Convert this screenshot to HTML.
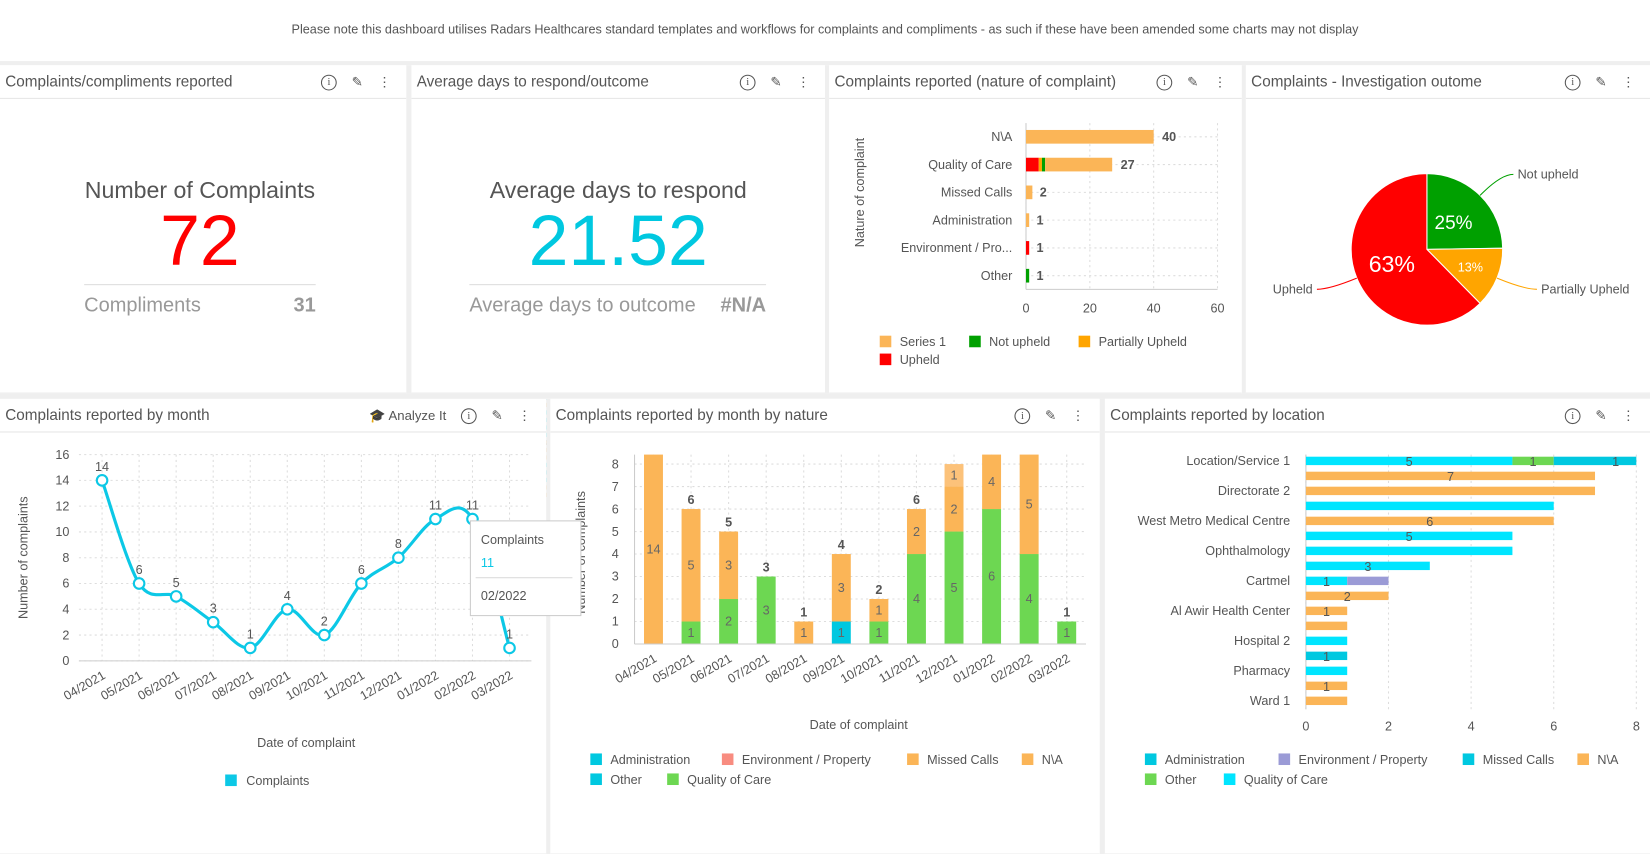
<!DOCTYPE html>
<html><head><meta charset="utf-8">
<style>
*{box-sizing:border-box;margin:0;padding:0}
body{width:1650px;height:812px;background:#fff;font-family:"Liberation Sans",sans-serif;color:#555;position:relative;overflow:hidden}
#root{position:absolute;left:0;top:0;width:1568px;height:772px;transform:scale(1.0523);transform-origin:0 0}
.note{position:absolute;top:21px;left:0;width:1568px;text-align:center;font-size:12px;color:#555}
.gap{position:absolute;background:#efefef}
.panel{position:absolute;background:#fff;border-bottom:1px solid #eee}
.hdr{position:absolute;left:0;right:0;top:0;height:32px;border-bottom:1px solid #e6e6e6;font-size:14.5px;line-height:32px;padding-left:5px;color:#555}
.icons{position:absolute;right:14px;top:0;height:32px;display:flex;gap:14px;align-items:center;font-size:13px;color:#555}
.ic-i{width:15px;height:15px;border:1.3px solid #555;border-radius:50%;font-size:10px;line-height:13px;text-align:center;font-family:"Liberation Serif",serif}
svg text{font-family:"Liberation Sans",sans-serif}
</style></head><body>
<div id="root">
<div class="note">Please note this dashboard utilises Radars Healthcares standard templates and workflows for complaints and compliments - as such if these have been amended some charts may not display</div>
<div class="gap" style="left:0;top:58px;width:1568px;height:4px"></div>
<div class="gap" style="left:0;top:374px;width:1568px;height:5px"></div>
<div class="gap" style="left:386px;top:62px;width:5px;height:312px"></div>
<div class="gap" style="left:784px;top:62px;width:4px;height:312px"></div>
<div class="gap" style="left:1180px;top:62px;width:4px;height:312px"></div>
<div class="gap" style="left:1568px;top:58px;width:4px;height:754px"></div>
<div class="gap" style="left:519px;top:379px;width:4px;height:433px"></div>
<div class="gap" style="left:1045px;top:379px;width:5px;height:433px"></div>

<div class="panel" style="left:0;top:62px;width:386px;height:312px">
 <div class="hdr">Complaints/compliments reported
  <div class="icons"><div class="ic-i">i</div><span>✎</span><span>⋮</span></div></div>
 <div style="position:absolute;top:106px;width:380px;text-align:center;font-size:22px;color:#555">Number of Complaints</div>
 <div style="position:absolute;top:128px;width:380px;text-align:center;font-size:68px;color:#f00">72</div>
 <div style="position:absolute;top:208px;left:80px;width:220px;border-top:1px solid #ddd"></div>
 <div style="position:absolute;top:218px;left:80px;font-size:19px;color:#999">Compliments</div>
 <div style="position:absolute;top:218px;left:200px;width:100px;text-align:right;font-size:19px;color:#999;font-weight:bold">31</div>
</div>

<div class="panel" style="left:391px;top:62px;width:393px;height:312px">
 <div class="hdr">Average days to respond/outcome
  <div class="icons"><div class="ic-i">i</div><span>✎</span><span>⋮</span></div></div>
 <div style="position:absolute;top:106px;width:393px;text-align:center;font-size:22px;color:#555">Average days to respond</div>
 <div style="position:absolute;top:128px;width:393px;text-align:center;font-size:68px;color:#00c8e0">21.52</div>
 <div style="position:absolute;top:208px;left:55px;width:282px;border-top:1px solid #ddd"></div>
 <div style="position:absolute;top:218px;left:55px;font-size:19px;color:#999">Average days to outcome</div>
 <div style="position:absolute;top:218px;left:237px;width:100px;text-align:right;font-size:19px;color:#999;font-weight:bold">#N/A</div>
</div>

<div class="panel" style="left:788px;top:62px;width:392px;height:312px">
 <div class="hdr">Complaints reported (nature of complaint)
  <div class="icons"><div class="ic-i">i</div><span>✎</span><span>⋮</span></div></div>
</div>
<div class="panel" style="left:1184px;top:62px;width:384px;height:312px">
 <div class="hdr">Complaints - Investigation outome
  <div class="icons"><div class="ic-i">i</div><span>✎</span><span>⋮</span></div></div>
</div>
<div class="panel" style="left:0;top:379px;width:519px;height:433px">
 <div class="hdr">Complaints reported by month
  <div class="icons"><span style="font-size:12.5px">🎓 Analyze It</span><div class="ic-i">i</div><span>✎</span><span>⋮</span></div></div>
</div>
<div class="panel" style="left:523px;top:379px;width:522px;height:433px">
 <div class="hdr">Complaints reported by month by nature
  <div class="icons"><div class="ic-i">i</div><span>✎</span><span>⋮</span></div></div>
</div>
<div class="panel" style="left:1050px;top:379px;width:518px;height:433px">
 <div class="hdr">Complaints reported by location
  <div class="icons"><div class="ic-i">i</div><span>✎</span><span>⋮</span></div></div>
</div>

<svg id="charts" width="1568" height="772" style="position:absolute;left:0;top:0"></svg>
</div>

<script>
// ---- Nature of complaint (horizontal stacked) ----
const natCats = ["N\\A","Quality of Care","Missed Calls","Administration","Environment / Pro...","Other"];
const natUpheld = [0,4,0,0,1,0];
const natPartial = [0,1,0,0,0,0];
const natNotUpheld = [0,1,0,0,0,1];
const natSeries1 = [40,21,2,1,0,0];
const natTicks = [0,20,40,60];
// ---- Pie ----
const pieLabels = ["Not upheld","Partially Upheld","Upheld"];
const pieValues = [25,13,63];
// ---- By month line ----
const months = ["04/2021","05/2021","06/2021","07/2021","08/2021","09/2021","10/2021","11/2021","12/2021","01/2022","02/2022","03/2022"];
const monthCounts = [14,6,5,3,1,4,2,6,8,11,11,1];
const lineTicks = [0,2,4,6,8,10,12,14,16];
// ---- By month by nature ----
const mnQuality = [0,1,2,3,0,0,1,4,5,6,4,1];
const mnAdmin = [0,0,0,0,0,1,0,0,0,0,0,0];
const mnNA = [14,5,3,0,1,3,1,2,2,4,5,0];
const mnMissed = [0,0,0,0,0,0,0,0,1,0,0,0];
const mnTicks = [0,1,2,3,4,5,6,7,8];
// ---- By location ----
const locLabels = ["Location/Service 1","","Directorate 2","","West Metro Medical Centre","","Ophthalmology","","Cartmel","","Al Awir Health Center","","Hospital 2","","Pharmacy","","Ward 1"];
const locQuality = [5,0,0,6,0,5,5,3,1,0,0,0,1,0,1,0,0];
const locEnv = [0,0,0,0,0,0,0,0,1,0,0,0,0,0,0,0,0];
const locOther = [1,0,0,0,0,0,0,0,0,0,0,0,0,0,0,0,0];
const locMissed = [2,0,0,0,0,0,0,0,0,0,0,0,0,1,0,0,0];
const locNA = [0,7,7,0,6,0,0,0,0,2,1,1,0,0,0,1,1];
const locTicks = [0,2,4,6,8];

const svg = document.getElementById('charts');
const NS = 'http://www.w3.org/2000/svg';
function mk(tag, attrs, parent){const e=document.createElementNS(NS,tag);for(const k in attrs)e.setAttribute(k,attrs[k]);(parent||svg).appendChild(e);return e;}
function txt(x,y,s,attrs){const e=mk('text',Object.assign({x:x,y:y,'font-size':12,fill:'#555'},attrs||{}));e.textContent=s;return e;}

// ===== Nature chart =====
(function(){
 const x0=975,x1=1157,max=60;const sx=v=>x0+v/max*(x1-x0);
 const rowY=i=>130+i*26.4, bh=13;
 natTicks.forEach(t=>{const g=mk('line',{x1:sx(t),x2:sx(t),y1:117,y2:275,stroke:'#ddd','stroke-dasharray':'2,3'});
  
  const l=txt(sx(t),297,String(t),{'text-anchor':'middle'});});
 mk('line',{x1:x0,x2:x0,y1:117,y2:275,stroke:'#ccc'});
 mk('line',{x1:x0,x2:x1,y1:275,y2:275,stroke:'#ccc'});
 natCats.forEach((c,i)=>{
  const y=rowY(i);
  mk('line',{x1:x0,x2:x1,y1:y,y2:y,stroke:'#ddd','stroke-dasharray':'2,3'});
  const l=txt(962,y+4,c,{'text-anchor':'end'});
  let acc=0;
  [[natUpheld,'#f00','bar-upheld'],[natPartial,'#ffa500','bar-partially-upheld'],[natNotUpheld,'#00a000','bar-not-upheld'],[natSeries1,'#fbb557','bar-series-1']].forEach(([arr,col,nm])=>{
   const v=arr[i]; if(!v)return;
   const r=mk('rect',{x:sx(acc),y:y-bh/2,width:Math.max(sx(acc+v)-sx(acc),2.5),height:bh,fill:col});
   acc+=v;});
  const tot=natUpheld[i]+natPartial[i]+natNotUpheld[i]+natSeries1[i];
  const tl=txt(sx(tot)+(tot<5?7:8),y+4,String(tot),{'font-weight':'bold'});
 });
 const at=txt(0,0,'Nature of complaint',{transform:'translate(821,183) rotate(-90)','text-anchor':'middle'});
 const leg=[['Series 1','#fbb557',836,325],['Not upheld','#00a000',921,325],['Partially Upheld','#ffa500',1025,325],['Upheld','#f00',836,342]];
 leg.forEach(([s,c,x,y])=>{const r=mk('rect',{x:x,y:y-6,width:11,height:11,fill:c});
  const t=txt(x+19,y+4,s);});
})();

// ===== Pie =====
(function(){
 const cx=1356,cy=237,r=72;const total=pieValues.reduce((a,b)=>a+b,0);
 const cols=['#00a000','#ffa500','#f00'];
 let a=-Math.PI/2;
 pieValues.forEach((v,i)=>{
  const a2=a+v/total*2*Math.PI;
  const large=(a2-a)>Math.PI?1:0;
  const p=mk('path',{d:`M${cx},${cy}L${cx+r*Math.cos(a)},${cy+r*Math.sin(a)}A${r},${r} 0 ${large} 1 ${cx+r*Math.cos(a2)},${cy+r*Math.sin(a2)}Z`,fill:cols[i],stroke:'#fff','stroke-width':1});
  
  const m=(a+a2)/2;
  const fs=v<20?12:(v>50?22:18);
  const rr=v<20?r*0.62:r*0.5;
  const t=txt(cx+rr*Math.cos(m),cy+rr*Math.sin(m)+fs*0.35,v+'%',{fill:'#fff','font-size':fs,'text-anchor':'middle'});
  
  const ex=cx+r*Math.cos(m),ey=cy+r*Math.sin(m);
  const lx=cx+(r+28)*Math.cos(m),ly=cy+(r+28)*Math.sin(m);
  const right=Math.cos(m)>0;
  mk('path',{d:`M${ex},${ey}Q${lx},${ly} ${lx+(right?12:-12)},${ly}`,fill:'none',stroke:cols[i]});
  const lt=txt(lx+(right?16:-16),ly+4,pieLabels[i],{'text-anchor':right?'start':'end'});
  
  a=a2;
 });
})();

// ===== Line chart =====
(function(){
 const y0=628,y1=432,max=16;const sy=v=>y0-v/max*(y0-y1);
 const x0=97,step=35.2;const sx=i=>x0+i*step;
 lineTicks.forEach(t=>{mk('line',{x1:75,x2:505,y1:sy(t),y2:sy(t),stroke:'#ddd','stroke-dasharray':'2,3'});
  const l=txt(66,sy(t)+4,String(t),{'text-anchor':'end'});});
 months.forEach((m,i)=>{mk('line',{x1:sx(i),x2:sx(i),y1:y1,y2:y0,stroke:'#ddd','stroke-dasharray':'2,3'});
  const l=txt(0,0,m,{'text-anchor':'end',transform:`translate(${sx(i)+4},${y0+16}) rotate(-30)`});});
 mk('line',{x1:75,x2:505,y1:y0,y2:y0,stroke:'#ccc'});
 const pts=monthCounts.map((v,i)=>[sx(i),sy(v)]);
 let d=`M${pts[0][0]},${pts[0][1]}`;
 for(let i=0;i<pts.length-1;i++){const p0=pts[i-1]||pts[i],p1=pts[i],p2=pts[i+1],p3=pts[i+2]||p2;
  d+=`C${p1[0]+(p2[0]-p0[0])/6},${p1[1]+(p2[1]-p0[1])/6} ${p2[0]-(p3[0]-p1[0])/6},${p2[1]-(p3[1]-p1[1])/6} ${p2[0]},${p2[1]}`;}
 const ln=mk('path',{d:d,fill:'none',stroke:'#0cc8e6','stroke-width':3});
 pts.forEach((p,i)=>{const c=mk('circle',{cx:p[0],cy:p[1],r:5,fill:'#fff',stroke:'#0cc8e6','stroke-width':2});
  const t=txt(p[0],p[1]-9,String(monthCounts[i]),{'text-anchor':'middle'});});
 const yt=txt(0,0,'Number of complaints',{transform:'translate(26,530) rotate(-90)','text-anchor':'middle'});
 const xt=txt(291,710,'Date of complaint',{'text-anchor':'middle'});
 const ls=mk('rect',{x:214,y:736,width:11,height:11,fill:'#0cc8e6'});
 const lt=txt(234,746,'Complaints');
})();

// ===== Month by nature =====
(function(){
 const y0=612,y8=441;const sy=v=>y0-v/8*(y0-y8);const top=432;
 const x0=621,step=35.7;const sx=i=>x0+i*step;const bw=18;
 mnTicks.forEach(t=>{mk('line',{x1:603,x2:1032,y1:sy(t),y2:sy(t),stroke:'#ddd','stroke-dasharray':'2,3'});
  const l=txt(588,sy(t)+4,String(t),{'text-anchor':'end'});});
 months.forEach((m,i)=>{mk('line',{x1:sx(i),x2:sx(i),y1:top,y2:y0,stroke:'#ddd','stroke-dasharray':'2,3'});
  const l=txt(0,0,m,{'text-anchor':'end',transform:`translate(${sx(i)+4},${y0+16}) rotate(-30)`});
  let acc=0;
  [[mnQuality,'#6dd752','bar-quality-of-care'],[mnAdmin,'#00c8e0','bar-administration'],[mnNA,'#fbb557','bar-na'],[mnMissed,'#fcc27a','bar-missed-calls']].forEach(([arr,col,nm])=>{
   const v=arr[i];if(!v)return;
   const yb=sy(acc),yt=Math.max(sy(acc+v),top);
   const r=mk('rect',{x:sx(i)-bw/2,y:yt,width:bw,height:yb-yt,fill:col});
   const t=txt(sx(i),(yb+yt)/2+4,String(v),{'text-anchor':'middle',fill:'#666'});
   acc+=v;});
  if(sy(acc)>top+10){const t=txt(sx(i),sy(acc)-5,String(acc),{'text-anchor':'middle','font-weight':'bold'});}
 });
 mk('line',{x1:603,x2:603,y1:top,y2:y0,stroke:'#ccc'});
 mk('line',{x1:603,x2:1032,y1:y0,y2:y0,stroke:'#ccc'});
 const yt=txt(0,0,'Number of complaints',{transform:'translate(556,525) rotate(-90)','text-anchor':'middle'});
 const xt=txt(816,693,'Date of complaint',{'text-anchor':'middle'});
 const leg=[['Administration','#00c8e0',561,722],['Environment / Property','#f88c80',686,722],['Missed Calls','#fbb557',862,722],['N\\A','#fbb557',971,722],['Other','#00c8e0',561,741],['Quality of Care','#6dd752',634,741]];
 leg.forEach(([s,c,x,y])=>{const r=mk('rect',{x:x,y:y-6,width:11,height:11,fill:c});
  const t=txt(x+19,y+4,s);});
})();

// tooltip over line chart
(function(){
 const g=mk('g',{});
 mk('rect',{x:447,y:495,width:105,height:90,fill:'#fff',stroke:'#ccc'},g);
 txt(457,517,'Complaints',{'font-size':12,fill:'#555'});
 txt(457,539,'11',{'font-size':12,fill:'#0cc8e6'});
 mk('line',{x1:452,x2:544,y1:549,y2:549,stroke:'#ddd'},g);
 txt(457,570,'02/2022',{'font-size':12,fill:'#555'});
})();

// ===== Location =====
(function(){
 const x0=1241,x8=1555;const sx=v=>x0+v/8*(x8-x0);
 const rowY=i=>438+i*14.25,bh=8;const top=432,bot=674;
 locTicks.forEach(t=>{mk('line',{x1:sx(t),x2:sx(t),y1:top,y2:bot,stroke:'#ddd','stroke-dasharray':'2,3'});
  const l=txt(sx(t),694,String(t),{'text-anchor':'middle'});});
 mk('line',{x1:x0,x2:x0,y1:top,y2:bot,stroke:'#ccc'});
 locLabels.forEach((lab,i)=>{
  const y=rowY(i);
  if(lab){const l=txt(1226,y+4,lab,{'text-anchor':'end'});}
  let acc=0;
  [[locQuality,'#00e5ff','bar-quality-of-care'],[locEnv,'#9b9bd6','bar-environment'],[locOther,'#6dd752','bar-other'],[locMissed,'#00c8e0','bar-missed-calls'],[locNA,'#fbb557','bar-na']].forEach(([arr,col,nm])=>{
   const v=arr[i];if(!v)return;
   const r=mk('rect',{x:sx(acc),y:y-bh/2,width:Math.min(sx(acc+v),1568)-sx(acc),height:bh,fill:col});
   acc+=v;});
 });
 const showLbl=[[0,'5',2.5],[0,'1',5.5],[0,'1',7.5],[1,'7',3.5],[4,'6',3],[5,'5',2.5],[7,'3',1.5],[8,'1',0.5],[9,'2',1],[10,'1',0.5],[13,'1',0.5],[15,'1',0.5]];
 showLbl.forEach(([i,s,v])=>{const t=txt(sx(v),rowY(i)+5,s,{'text-anchor':'middle',fill:'#555'});});
 const leg=[['Administration','#00c8e0',1088,722],['Environment / Property','#9b9bd6',1215,722],['Missed Calls','#00c8e0',1390,722],['N\\A','#fbb557',1499,722],['Other','#6dd752',1088,741],['Quality of Care','#00e5ff',1163,741]];
 leg.forEach(([s,c,x,y])=>{const r=mk('rect',{x:x,y:y-6,width:11,height:11,fill:c});
  const t=txt(x+19,y+4,s);});
})();
</script>
</body></html>
